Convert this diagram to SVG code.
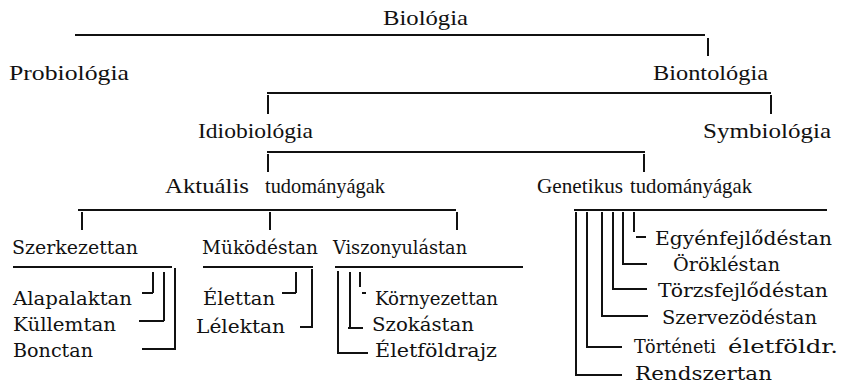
<svg xmlns="http://www.w3.org/2000/svg" width="842" height="385" viewBox="0 0 842 385">
<style>
.t1{font-family:"Liberation Serif","DejaVu Serif",serif;font-size:21px;fill:#111}
.t2{font-family:"DejaVu Serif","Liberation Serif",serif;font-size:18px;fill:#111}
.ln{stroke:#111;stroke-width:2;fill:none;stroke-linecap:butt}
</style>
<rect width="842" height="385" fill="#fff"/>
<g id="connectors" class="ln">
<path d="M75 35H705M708 38V56"/>
<path d="M267 93H771M268 95V114M771 95V114"/>
<path d="M267 152H645M268 154V172M644 154V172"/>
<path d="M78 210H456M82 212V230M270 212V230M457 212V230"/>
<path d="M574 210H827"/>
<path d="M13 267H172M203 267H313M335 267H523"/>
<path d="M142 293H153M153 272V293M139 321H164M164 272V321M142 349H176M175 268V349"/>
<path d="M282 293H296M296 272V293M300 327H313M312 269V327"/>
<path d="M338 271V353M337 353H368M350 272V328M348 328H363M360 272V287M362 293H366"/>
<path d="M576 212V375M575 375H622M587 212V348M586 347H622M602 212V316M601 316H648M613 212V289M612 289H647M623 212V264M622 264H647M634 212V232M636 237H646"/>
</g>
<g id="biologia"><text class="t1" x="383" y="25" textLength="85" lengthAdjust="spacingAndGlyphs">Biológia</text></g>
<g id="probiologia"><text class="t1" x="9" y="80" textLength="120" lengthAdjust="spacingAndGlyphs">Probiológia</text></g>
<g id="biontologia"><text class="t1" x="653" y="80" textLength="115" lengthAdjust="spacingAndGlyphs">Biontológia</text></g>
<g id="idiobiologia"><text class="t1" x="198" y="138" textLength="115" lengthAdjust="spacingAndGlyphs">Idiobiológia</text></g>
<g id="symbiologia"><text class="t1" x="703" y="138" textLength="128" lengthAdjust="spacingAndGlyphs">Symbiológia</text></g>
<g id="aktualis"><text class="t1" x="165" y="193" textLength="84" lengthAdjust="spacingAndGlyphs">Aktuális</text><text class="t1" x="265" y="193" textLength="120" lengthAdjust="spacingAndGlyphs">tudományágak</text></g>
<g id="genetikus"><text class="t1" x="537" y="193" textLength="86" lengthAdjust="spacingAndGlyphs">Genetikus</text><text class="t1" x="630" y="193" textLength="122" lengthAdjust="spacingAndGlyphs">tudományágak</text></g>
<g id="szerkezettan"><text class="t2" x="12" y="254" textLength="126" lengthAdjust="spacingAndGlyphs">Szerkezettan</text></g>
<g id="mukodestan"><text class="t2" x="202" y="254" textLength="116" lengthAdjust="spacingAndGlyphs">Müködéstan</text></g>
<g id="viszonyulastan"><text class="t2" x="333" y="254" textLength="134" lengthAdjust="spacingAndGlyphs">Viszonyulástan</text></g>
<g id="alapalaktan"><text class="t2" x="13" y="305" textLength="119" lengthAdjust="spacingAndGlyphs">Alapalaktan</text></g>
<g id="kullemtan"><text class="t2" x="13" y="331" textLength="103" lengthAdjust="spacingAndGlyphs">Küllemtan</text></g>
<g id="bonctan"><text class="t2" x="13" y="357" textLength="80" lengthAdjust="spacingAndGlyphs">Bonctan</text></g>
<g id="elettan"><text class="t2" x="203" y="305" textLength="72" lengthAdjust="spacingAndGlyphs">Élettan</text></g>
<g id="lelektan"><text class="t2" x="196" y="333" textLength="89" lengthAdjust="spacingAndGlyphs">Lélektan</text></g>
<g id="kornyezettan"><text class="t2" x="375" y="305" textLength="123" lengthAdjust="spacingAndGlyphs">Környezettan</text></g>
<g id="szokastan"><text class="t2" x="372" y="331" textLength="102" lengthAdjust="spacingAndGlyphs">Szokástan</text></g>
<g id="eletfoldrajz"><text class="t2" x="375" y="357" textLength="122" lengthAdjust="spacingAndGlyphs">Életföldrajz</text></g>
<g id="egyenfejlodestan"><text class="t2" x="655" y="245" textLength="177" lengthAdjust="spacingAndGlyphs">Egyénfejlődéstan</text></g>
<g id="orokléstan"><text class="t2" x="673" y="271" textLength="107" lengthAdjust="spacingAndGlyphs">Örökléstan</text></g>
<g id="torzsfejlodestan"><text class="t2" x="658" y="297" textLength="170" lengthAdjust="spacingAndGlyphs">Törzsfejlődéstan</text></g>
<g id="szervezodestan"><text class="t2" x="662" y="324" textLength="155" lengthAdjust="spacingAndGlyphs">Szervezödéstan</text></g>
<g id="torteneti"><text class="t2" x="634" y="353" textLength="82" lengthAdjust="spacingAndGlyphs">Történeti</text><text class="t2" x="728" y="353" textLength="110" lengthAdjust="spacingAndGlyphs">életföldr.</text></g>
<g id="rendszertan"><text class="t2" x="635" y="380" textLength="137" lengthAdjust="spacingAndGlyphs">Rendszertan</text></g>
</svg>
